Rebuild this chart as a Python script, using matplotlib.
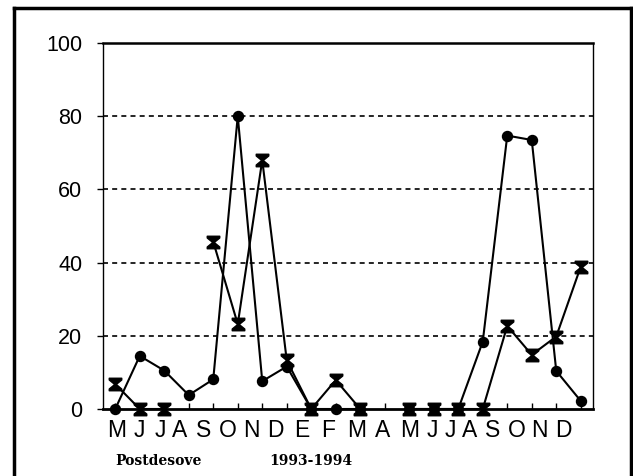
import matplotlib
matplotlib.use("Agg")
import matplotlib.pyplot as plt
import numpy as np
from matplotlib.path import Path
from matplotlib.lines import Line2D

# ---- data ----
months = ["M", "J", "J", "A", "S", "O", "N", "D", "E", "F",
          "M", "A", "M", "J", "J", "A", "S", "O", "N", "D"]
circles = [0, 14.5, 10.5, 3.8, 8.1, 80, 7.6, 11.6, 0, 0,
           0, np.nan, 0, 0, 0, 18.4, 74.7, 73.5, 10.4, 2.2]
hourglass = [6.8, 0, 0, np.nan, 45.7, 23.2, 68, 13.3, 0, 7.9,
             0, np.nan, 0, 0, 0, 0, 22.7, 14.8, 19.8, 38.9]
yticks = [0, 20, 40, 60, 80, 100]
footer_left = "Postdesove"
footer_right = "1993-1994"

W, H = 633, 476
fig = plt.figure(figsize=(W / 100, H / 100), dpi=100)
ax = fig.add_axes([103 / W, (H - 409) / H, 490 / W, 366 / H])

x = np.arange(len(months))

# hourglass marker
hv = [(-1, 1), (1, 1), (1, 0.72), (0.12, 0), (1, -0.72), (1, -1),
      (-1, -1), (-1, -0.72), (-0.12, 0), (-1, 0.72), (-1, 1)]
hg = Path(hv, [Path.MOVETO] + [Path.LINETO] * (len(hv) - 2) + [Path.CLOSEPOLY])

ax.plot(x, hourglass, color="black", lw=1.5, marker=hg, markersize=9,
        markerfacecolor="black", markeredgecolor="black", zorder=3, clip_on=False)
ax.plot(x, circles, color="black", lw=1.5, marker="o", markersize=7.2,
        markerfacecolor="black", markeredgecolor="black", zorder=4, clip_on=False)

ax.set_xlim(-0.5, len(months) - 0.5)
ax.set_ylim(0, 100)
ax.set_yticks(yticks)
ax.set_yticklabels([str(v) for v in yticks], fontsize=15.5, family="Liberation Sans")
ax.tick_params(axis="y", direction="out", length=4, width=1, pad=11)
ax.set_xticks(x)
ax.set_xticklabels([""] * len(x))
ax.tick_params(axis="x", direction="in", length=4, width=1)

for v in yticks[1:-1]:
    ax.axhline(v, color="black", lw=1.2, linestyle=(0, (3, 2.5)), zorder=1)

for s in ["left", "right"]:
    ax.spines[s].set_linewidth(1.0)
ax.spines["top"].set_linewidth(1.8)
ax.spines["bottom"].set_linewidth(2.0)

# month labels (evenly set text row beneath the axis)
label_px = [117, 139, 160, 180, 204, 228, 251, 275, 302, 328,
            357, 383, 410, 432, 450, 470, 493, 517, 539, 563]
for lab, px in zip(months, label_px):
    fig.text(px / W, (H - 437) / H, lab, ha="center", va="baseline",
             fontsize=16.5, family="Liberation Sans")

fig.text(115 / W, (H - 465) / H, footer_left, ha="left", va="baseline",
         fontsize=10, family="DejaVu Serif", fontweight="bold")
fig.text(269 / W, (H - 465) / H, footer_right, ha="left", va="baseline",
         fontsize=10, family="DejaVu Serif", fontweight="bold")

# outer frame
def fl(xs, ys, lw):
    fig.add_artist(Line2D([p / W for p in xs], [1 - p / H for p in ys],
                          color="black", lw=lw, transform=fig.transFigure))

fl([13.5, 13.5], [7.5, H + 5], 2.5)
fl([13.5, 631], [7.5, 7.5], 2.5)
fl([631, 631], [7.5, H + 5], 2.5)

fig.savefig("out.png", dpi=100)
